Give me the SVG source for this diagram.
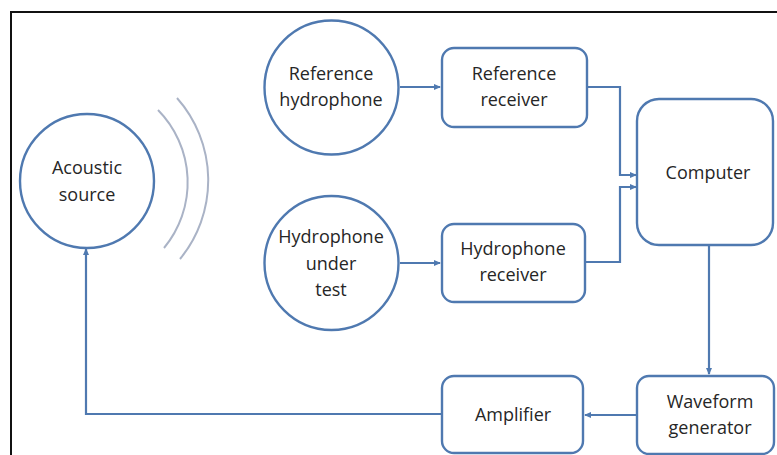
<svg xmlns="http://www.w3.org/2000/svg" width="777" height="455" viewBox="0 0 777 455">
<defs>
<style>
.node{fill:#fff;stroke:#4f79b0;stroke-width:2.4}
.wire{fill:none;stroke:#4f79b0;stroke-width:2.2}
.wave{fill:none;stroke:#aab3c6;stroke-width:2}
text{font-family:"Open Sans","Liberation Sans",sans-serif;font-size:18px;fill:#262626;text-anchor:middle}
</style>
<marker id="ah" markerWidth="8" markerHeight="8" refX="6" refY="4" orient="auto" markerUnits="userSpaceOnUse">
<path d="M0,1 L7,4 L0,7 z" fill="#4f79b0"/>
</marker>
</defs>
<rect x="0" y="0" width="777" height="455" fill="#fff"/>
<rect x="11" y="12" width="800" height="500" fill="none" stroke="#111" stroke-width="2"/>
<g id="waves">
<path class="wave" d="M158,110 A103,103 0 0 1 164,248"/>
<path class="wave" d="M177,98 A124,124 0 0 1 180,259"/>
</g>
<g id="connectors">
<path class="wire" d="M400,87 L440,87" marker-end="url(#ah)"/>
<path class="wire" d="M400,263 L440,263" marker-end="url(#ah)"/>
<path class="wire" d="M587,87 L620,87 L620,175 L636,175" marker-end="url(#ah)"/>
<path class="wire" d="M585,262 L620,262 L620,187 L636,187" marker-end="url(#ah)"/>
<path class="wire" d="M709,245 L709,374" marker-end="url(#ah)"/>
<path class="wire" d="M637,415 L585,415" marker-end="url(#ah)"/>
<path class="wire" d="M442,414 L86,414 L86,249" marker-end="url(#ah)"/>
</g>
<g id="acoustic-source">
<circle class="node" cx="87" cy="181" r="67"/>
<text x="87" y="174">Acoustic</text>
<text x="87" y="201">source</text>
</g>
<g id="reference-hydrophone">
<circle class="node" cx="331.5" cy="87.5" r="67"/>
<text x="331" y="80">Reference</text>
<text x="331" y="106">hydrophone</text>
</g>
<g id="hydrophone-under-test">
<circle class="node" cx="331.5" cy="263" r="67"/>
<text x="331" y="243">Hydrophone</text>
<text x="331" y="270">under</text>
<text x="331" y="296">test</text>
</g>
<g id="reference-receiver">
<rect class="node" x="442" y="48" width="145" height="79" rx="12"/>
<text x="514" y="80">Reference</text>
<text x="514" y="106">receiver</text>
</g>
<g id="hydrophone-receiver">
<rect class="node" x="442" y="224" width="143" height="78" rx="12"/>
<text x="513" y="255">Hydrophone</text>
<text x="513" y="281">receiver</text>
</g>
<g id="computer">
<rect class="node" x="637" y="99" width="136" height="146" rx="22"/>
<text x="708" y="179">Computer</text>
</g>
<g id="waveform-generator">
<rect class="node" x="637" y="376" width="137" height="78" rx="12"/>
<text x="710" y="408">Waveform</text>
<text x="710" y="434">generator</text>
</g>
<g id="amplifier">
<rect class="node" x="442" y="376" width="141" height="77" rx="12"/>
<text x="513" y="421">Amplifier</text>
</g>
</svg>
